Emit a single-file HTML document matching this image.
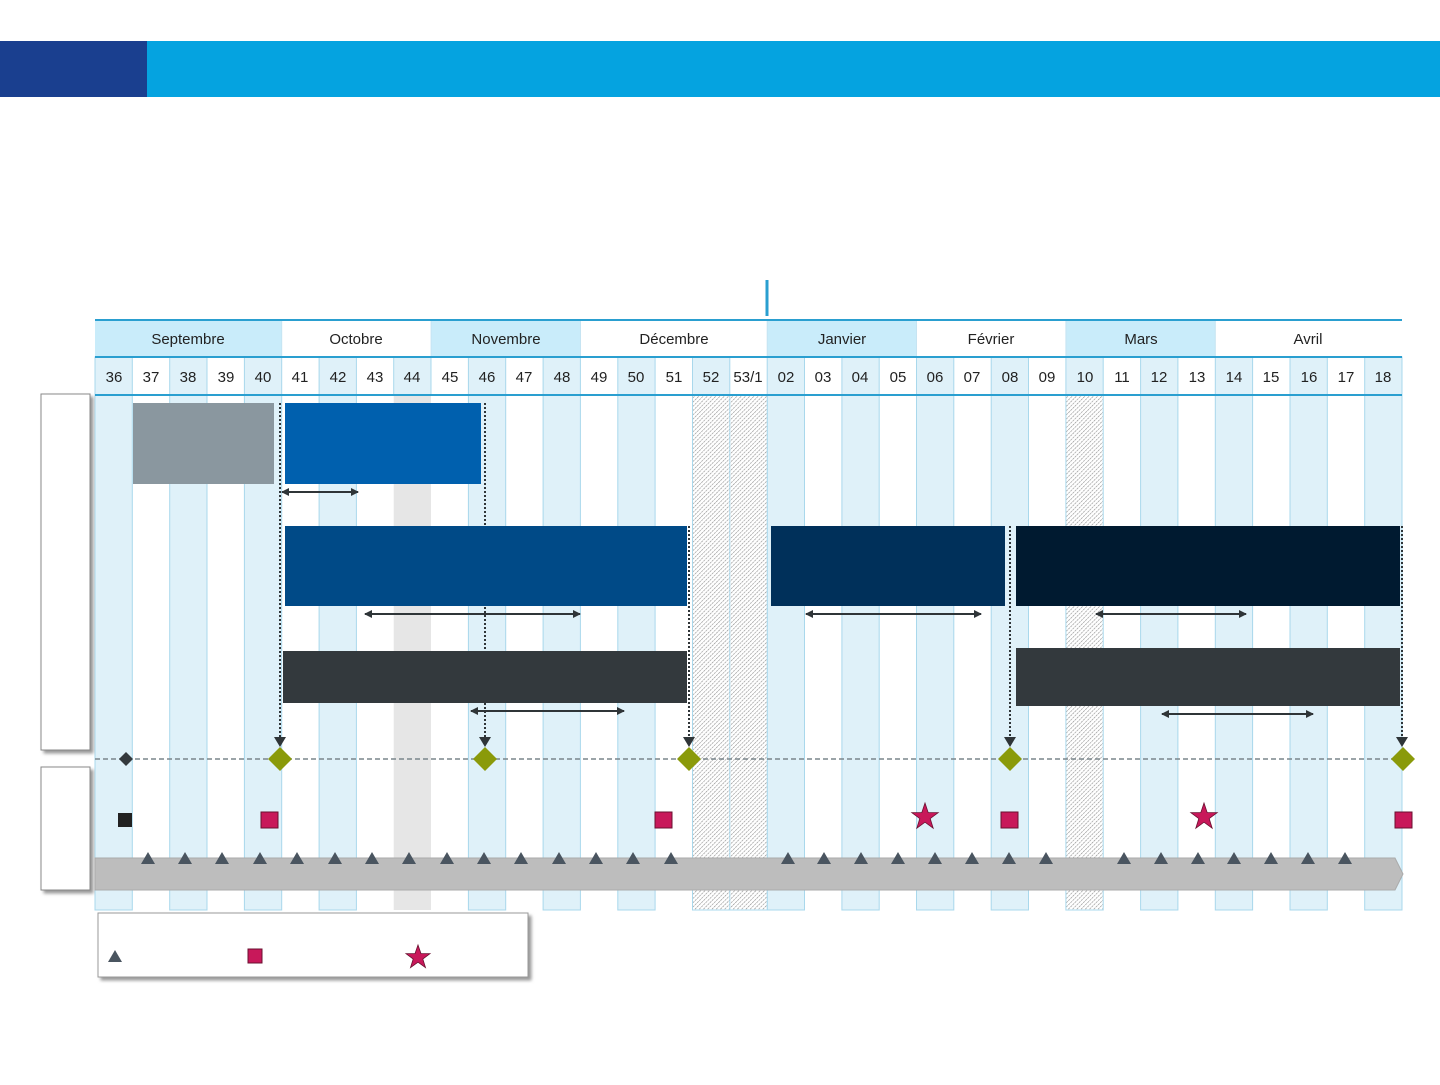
<!DOCTYPE html>
<html><head><meta charset="utf-8"><style>
body{margin:0;background:#fff;width:1440px;height:1080px;overflow:hidden;font-family:"Liberation Sans",sans-serif}
</style></head><body>
<svg width="1440" height="1080" viewBox="0 0 1440 1080" xmlns="http://www.w3.org/2000/svg" font-family="Liberation Sans, sans-serif">
<defs>
<pattern id="h" width="3" height="3" patternUnits="userSpaceOnUse" patternTransform="rotate(45)">
<rect width="3" height="3" fill="#fff"/><line x1="0" y1="0" x2="0" y2="3" stroke="#8a8a8a" stroke-width="1.2" stroke-dasharray="1.5,0.8"/></pattern>
<marker id="a" markerWidth="8" markerHeight="8" refX="7" refY="4" orient="auto-start-reverse" markerUnits="userSpaceOnUse"><path d="M0,0 L8,4 L0,8z" fill="#2f3538"/></marker>
<filter id="sh"><feDropShadow dx="3" dy="3" stdDeviation="1.5" flood-color="#999"/></filter>
</defs>
<rect x="0" y="41" width="147" height="56" fill="#1a3f8f"/>
<rect x="147" y="41" width="1293" height="56" fill="#05a3e0"/>
<line x1="767" y1="280" x2="767" y2="316" stroke="#2a9fd0" stroke-width="3"/>
<rect x="95" y="320" width="1307" height="37" fill="#fff"/>
<rect x="95" y="320" width="186.7" height="37" fill="#c9ecfa"/>
<rect x="431.1" y="320" width="149.4" height="37" fill="#c9ecfa"/>
<rect x="767.2" y="320" width="149.3" height="37" fill="#c9ecfa"/>
<rect x="1065.9" y="320" width="149.4" height="37" fill="#c9ecfa"/>
<g stroke="#c6e4f2" stroke-width="1"><line x1="281.7" y1="320" x2="281.7" y2="357"/><line x1="431.1" y1="320" x2="431.1" y2="357"/><line x1="580.5" y1="320" x2="580.5" y2="357"/><line x1="767.2" y1="320" x2="767.2" y2="357"/><line x1="916.5" y1="320" x2="916.5" y2="357"/><line x1="1065.9" y1="320" x2="1065.9" y2="357"/><line x1="1215.3" y1="320" x2="1215.3" y2="357"/></g>
<g font-size="15" text-anchor="middle" fill="#222">
<text x="188" y="344">Septembre</text><text x="356" y="344">Octobre</text><text x="506" y="344">Novembre</text><text x="674" y="344">Décembre</text><text x="842" y="344">Janvier</text><text x="991" y="344">Février</text><text x="1141" y="344">Mars</text><text x="1308" y="344">Avril</text></g>
<g fill="#dff1f9" stroke="#a9d8ec" stroke-width="1">
<rect x="95" y="357" width="37.3" height="553"/><rect x="169.7" y="357" width="37.3" height="553"/><rect x="244.4" y="357" width="37.3" height="553"/><rect x="319.1" y="357" width="37.3" height="553"/><rect x="468.4" y="357" width="37.3" height="553"/><rect x="543.1" y="357" width="37.3" height="553"/><rect x="617.8" y="357" width="37.3" height="553"/><rect x="767.2" y="357" width="37.3" height="553"/><rect x="841.9" y="357" width="37.3" height="553"/><rect x="916.5" y="357" width="37.3" height="553"/><rect x="991.2" y="357" width="37.3" height="553"/><rect x="1140.6" y="357" width="37.3" height="553"/><rect x="1215.3" y="357" width="37.3" height="553"/><rect x="1290" y="357" width="37.3" height="553"/><rect x="1364.7" y="357" width="37.3" height="553"/>
<rect x="393.7" y="357" width="37.3" height="38"/><rect x="692.5" y="357" width="37.3" height="38"/><rect x="1065.9" y="357" width="37.3" height="38"/>
</g>
<rect x="393.7" y="395" width="37.3" height="515" fill="#e6e6e6"/>
<rect x="692.5" y="395" width="74.7" height="515" fill="url(#h)" stroke="#a9d8ec"/>
<line x1="729.8" y1="395" x2="729.8" y2="910" stroke="#a9d8ec"/>
<rect x="1065.9" y="395" width="37.3" height="515" fill="url(#h)" stroke="#a9d8ec"/>
<line x1="95" y1="320" x2="1402" y2="320" stroke="#2a9fd0" stroke-width="2"/>
<line x1="95" y1="357" x2="1402" y2="357" stroke="#2a9fd0" stroke-width="2"/>
<line x1="95" y1="395" x2="1402" y2="395" stroke="#2a9fd0" stroke-width="2"/>
<g font-size="15" text-anchor="middle" fill="#222">
<text x="114" y="382">36</text><text x="151" y="382">37</text><text x="188" y="382">38</text><text x="226" y="382">39</text><text x="263" y="382">40</text><text x="300" y="382">41</text><text x="338" y="382">42</text><text x="375" y="382">43</text><text x="412" y="382">44</text><text x="450" y="382">45</text><text x="487" y="382">46</text><text x="524" y="382">47</text><text x="562" y="382">48</text><text x="599" y="382">49</text><text x="636" y="382">50</text><text x="674" y="382">51</text><text x="711" y="382">52</text><text x="748" y="382">53/1</text><text x="786" y="382">02</text><text x="823" y="382">03</text><text x="860" y="382">04</text><text x="898" y="382">05</text><text x="935" y="382">06</text><text x="972" y="382">07</text><text x="1010" y="382">08</text><text x="1047" y="382">09</text><text x="1085" y="382">10</text><text x="1122" y="382">11</text><text x="1159" y="382">12</text><text x="1197" y="382">13</text><text x="1234" y="382">14</text><text x="1271" y="382">15</text><text x="1309" y="382">16</text><text x="1346" y="382">17</text><text x="1383" y="382">18</text></g>
<rect x="41" y="394" width="49" height="356" fill="#fff" stroke="#888" filter="url(#sh)"/>
<rect x="41" y="767" width="49" height="123" fill="#fff" stroke="#888" filter="url(#sh)"/>
<g stroke="#2f3538" stroke-width="2" stroke-dasharray="2,2">
<line x1="280" y1="403" x2="280" y2="740"/><line x1="485" y1="403" x2="485" y2="740"/><line x1="689" y1="526" x2="689" y2="740"/><line x1="1010" y1="526" x2="1010" y2="740"/><line x1="1402" y1="526" x2="1402" y2="740"/></g>
<rect x="133" y="403" width="141" height="81" fill="#8a979f"/>
<rect x="285" y="403" width="196" height="81" fill="#0060ae"/>
<rect x="285" y="526" width="402" height="80" fill="#004a87"/>
<rect x="771" y="526" width="234" height="80" fill="#00305a"/>
<rect x="1016" y="526" width="384" height="80" fill="#001a30"/>
<rect x="283" y="651" width="404" height="52" fill="#33393d"/>
<rect x="1016" y="648" width="384" height="58" fill="#33393d"/>
<g fill="#2f3538"><path d="M274,737h12l-6,10z"/><path d="M479,737h12l-6,10z"/><path d="M683,737h12l-6,10z"/><path d="M1004,737h12l-6,10z"/><path d="M1396,737h12l-6,10z"/></g>
<g stroke="#2f3538" stroke-width="2" marker-start="url(#a)" marker-end="url(#a)">
<line x1="282" y1="492" x2="358" y2="492"/><line x1="365" y1="614" x2="580" y2="614"/><line x1="806" y1="614" x2="981" y2="614"/><line x1="1096" y1="614" x2="1246" y2="614"/><line x1="471" y1="711" x2="624" y2="711"/><line x1="1162" y1="714" x2="1313" y2="714"/></g>
<line x1="95" y1="759" x2="1402" y2="759" stroke="#7a868c" stroke-width="1.5" stroke-dasharray="5,3"/>
<path d="M126,752l7,7l-7,7l-7,-7z" fill="#33393d"/>
<g fill="#8a9a0a"><path d="M280,747l12,12l-12,12l-12,-12z"/><path d="M485,747l12,12l-12,12l-12,-12z"/><path d="M689,747l12,12l-12,12l-12,-12z"/><path d="M1010,747l12,12l-12,12l-12,-12z"/><path d="M1403,747l12,12l-12,12l-12,-12z"/></g>
<rect x="118" y="813" width="14" height="14" fill="#222"/>
<g fill="#c8185a" stroke="#6a1030"><rect x="261" y="812" width="17" height="16"/><rect x="655" y="812" width="17" height="16"/><rect x="1001" y="812" width="17" height="16"/><rect x="1395" y="812" width="17" height="16"/></g>
<g fill="#c8185a" stroke="#6a1030" stroke-width="0.8">
<path d="M925,803l3.2,9.6h10l-8,6l3,9.6l-8.2,-6l-8.2,6l3,-9.6l-8,-6h10z"/>
<path d="M1204,803l3.2,9.6h10l-8,6l3,9.6l-8.2,-6l-8.2,6l3,-9.6l-8,-6h10z"/></g>
<path d="M95,858H1395l8,16l-8,16H95z" fill="#bdbdbd" stroke="#aaa"/>
<g fill="#4a5560">
<path d="M148,852l7,12h-14z"/><path d="M185,852l7,12h-14z"/><path d="M222,852l7,12h-14z"/><path d="M260,852l7,12h-14z"/><path d="M297,852l7,12h-14z"/><path d="M335,852l7,12h-14z"/><path d="M372,852l7,12h-14z"/><path d="M409,852l7,12h-14z"/><path d="M447,852l7,12h-14z"/><path d="M484,852l7,12h-14z"/><path d="M521,852l7,12h-14z"/><path d="M559,852l7,12h-14z"/><path d="M596,852l7,12h-14z"/><path d="M633,852l7,12h-14z"/><path d="M671,852l7,12h-14z"/>
<path d="M788,852l7,12h-14z"/><path d="M824,852l7,12h-14z"/><path d="M861,852l7,12h-14z"/><path d="M898,852l7,12h-14z"/><path d="M935,852l7,12h-14z"/><path d="M972,852l7,12h-14z"/><path d="M1009,852l7,12h-14z"/><path d="M1046,852l7,12h-14z"/>
<path d="M1124,852l7,12h-14z"/><path d="M1161,852l7,12h-14z"/><path d="M1198,852l7,12h-14z"/><path d="M1234,852l7,12h-14z"/><path d="M1271,852l7,12h-14z"/><path d="M1308,852l7,12h-14z"/><path d="M1345,852l7,12h-14z"/></g>
<rect x="98" y="913" width="430" height="64" fill="#fff" stroke="#999" filter="url(#sh)"/>
<path d="M115,950l7,12h-14z" fill="#4a5560"/>
<rect x="248" y="949" width="14" height="14" fill="#c8185a" stroke="#6a1030"/>
<path d="M418,945l3,8.6h9l-7.2,5.4l2.7,8.6l-7.5,-5.4l-7.5,5.4l2.7,-8.6l-7.2,-5.4h9z" fill="#c8185a" stroke="#6a1030" stroke-width="0.8"/>
</svg>
</body></html>
